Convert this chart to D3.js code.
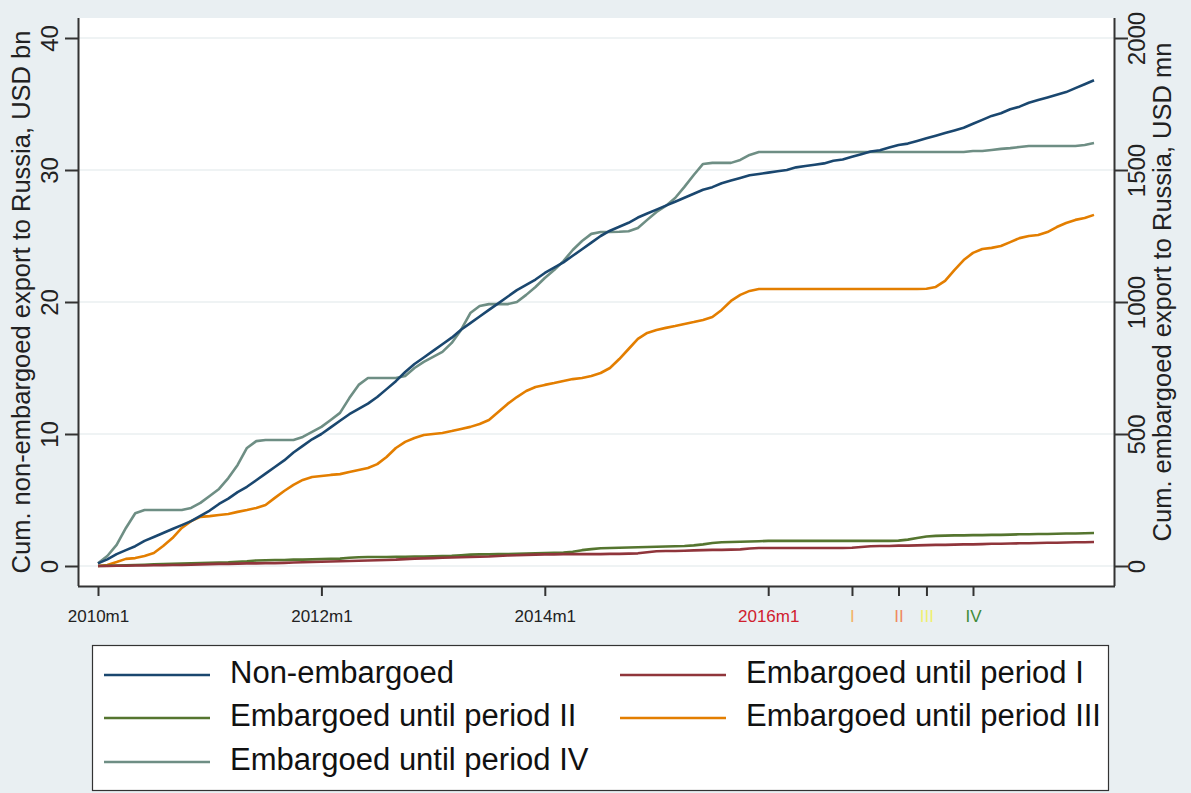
<!DOCTYPE html>
<html>
<head>
<meta charset="utf-8">
<script src="https://cdn.jsdelivr.net/npm/d3@7"></script>
<style>
  body { margin: 0; background: #e9eff2; }
  svg { display: block; font-family: "Liberation Sans", Arial, sans-serif; }
</style>
</head>
<body>
<div id="chart"></div>
<script>
// months since 2010m1, 2010m1 .. 2018m12
var months = d3.range(0, 108);

var tickMonths = [0, 24, 48, 72, 81, 86, 89, 94];
var tickLabels = ["2010m1", "2012m1", "2014m1", "2016m1", "I", "II", "III", "IV"];
var tickColors = ["#222", "#222", "#222", "#d0202e", "#f2b366", "#ef8a60", "#f0f070", "#3f8a3a"];

var leftTicks = [0, 10, 20, 30, 40];
var rightTicks = [0, 500, 1000, 1500, 2000];

// non-embargoed, USD bn (left axis)
var nonEmbargoed = [
  0.2, 0.5, 0.9, 1.2, 1.5, 1.9, 2.2, 2.5, 2.8, 3.1, 3.4, 3.8,
  4.2, 4.7, 5.1, 5.6, 6.0, 6.5, 7.0, 7.5, 8.0, 8.6, 9.1, 9.6,
  10.0, 10.5, 11.0, 11.5, 11.9, 12.3, 12.8, 13.4, 14.0, 14.7, 15.3, 15.8,
  16.3, 16.8, 17.3, 17.9, 18.4, 18.9, 19.4, 19.9, 20.4, 20.9, 21.3, 21.7,
  22.2, 22.6, 23.0, 23.5, 24.0, 24.5, 25.0, 25.4, 25.7, 26.0, 26.4, 26.7,
  27.0, 27.3, 27.6, 27.9, 28.2, 28.5, 28.7, 29.0, 29.2, 29.4, 29.6, 29.7,
  29.8, 29.9, 30.0, 30.2, 30.3, 30.4, 30.5, 30.7, 30.8, 31.0, 31.2, 31.4,
  31.5, 31.7, 31.9, 32.0, 32.2, 32.4, 32.6, 32.8, 33.0, 33.2, 33.5, 33.8,
  34.1, 34.3, 34.6, 34.8, 35.1, 35.3, 35.5, 35.7, 35.9, 36.2, 36.5, 36.8
];

// embargoed, USD mn (right axis)
var embargoedI = [
  0, 0, 1, 1, 2, 2, 3, 3, 4, 4, 5, 6,
  7, 8, 8, 9, 10, 10, 11, 11, 12, 13, 14, 15,
  16, 17, 18, 19, 20, 21, 22, 23, 24, 26, 28, 29,
  30, 31, 32, 33, 34, 35, 36, 38, 40, 41, 42, 43,
  44, 44, 45, 45, 45, 45, 45, 46, 46, 47, 48, 52,
  56, 57, 57, 58, 59, 60, 61, 61, 62, 63, 66, 68,
  68, 68, 68, 68, 68, 68, 68, 68, 68, 69, 72, 75,
  76, 76, 77, 77, 78, 79, 80, 80, 81, 82, 82, 83,
  84, 84, 85, 86, 86, 87, 88, 88, 89, 90, 90, 91
];

var embargoedII = [
  0, 1, 2, 3, 4, 5, 6, 7, 8, 9, 10, 11,
  12, 13, 14, 16, 18, 21, 22, 23, 23, 24, 24, 25,
  26, 27, 28, 31, 33, 34, 34, 34, 35, 35, 36, 36,
  37, 38, 39, 41, 43, 44, 44, 45, 45, 46, 47, 48,
  49, 50, 51, 54, 60, 64, 67, 68, 69, 70, 71, 72,
  73, 74, 75, 76, 78, 82, 87, 90, 91, 92, 93, 94,
  95, 95, 95, 95, 95, 95, 95, 95, 95, 95, 95, 95,
  95, 95, 96, 100, 106, 112, 114, 115, 116, 116, 117, 117,
  118, 118, 119, 120, 120, 121, 121, 122, 123, 123, 124, 125
];

var embargoedIII = [
  0, 4, 15, 27, 30, 38, 49, 76, 106, 144, 170, 186,
  189, 193, 197, 205, 212, 220, 231, 258, 284, 307, 326, 337,
  341, 345, 348, 356, 364, 371, 386, 413, 447, 470, 485, 496,
  500, 504, 511, 519, 527, 538, 553, 583, 614, 640, 663, 678,
  686, 693, 701, 708, 712, 720, 731, 750, 784, 822, 860, 883,
  894, 902, 909, 917, 924, 932, 943, 970, 1004, 1027, 1042, 1049,
  1049, 1049, 1049, 1049, 1049, 1049, 1049, 1049, 1049, 1049, 1049, 1049,
  1049, 1049, 1049, 1049, 1049, 1050, 1057, 1080, 1121, 1159, 1186, 1201,
  1205, 1212, 1227, 1242, 1250, 1254, 1265, 1284, 1299, 1311, 1318, 1330
];

var embargoedIV = [
  10, 38, 80, 144, 200, 212, 212, 212, 212, 212, 220, 239,
  265, 292, 333, 383, 447, 473, 477, 477, 477, 477, 489, 508,
  527, 553, 580, 636, 686, 712, 712, 712, 712, 720, 750, 773,
  792, 811, 845, 894, 958, 985, 992, 992, 992, 1000, 1027, 1057,
  1091, 1121, 1155, 1197, 1231, 1258, 1265, 1265, 1266, 1268, 1280, 1311,
  1341, 1364, 1394, 1436, 1481, 1523, 1527, 1527, 1527, 1538, 1557, 1568,
  1568, 1568, 1568, 1568, 1568, 1568, 1568, 1568, 1568, 1568, 1568, 1568,
  1568, 1568, 1568, 1568, 1568, 1568, 1568, 1568, 1568, 1568, 1572, 1572,
  1576, 1580, 1583, 1587, 1591, 1591, 1591, 1591, 1591, 1591, 1595, 1602
];

var seriesNames = ["Non-embargoed", "Embargoed until period I", "Embargoed until period II",
  "Embargoed until period III", "Embargoed until period IV"];
var seriesColors = ["#1a476f", "#90353b", "#55752f", "#e37e00", "#6e8e84"];

var width = 1191;
var height = 793;

var plot = { left: 78, right: 1115, top: 18, bottom: 586 };

var svg = d3.select("#chart")
  .append("svg")
  .attr("width", width)
  .attr("height", height);

var xScale = d3.scaleLinear()
  .domain([0, 107])
  .range([98, 1094]);

var yLeft = d3.scaleLinear()
  .domain([0, 40])
  .range([566, 38]);

var yRight = d3.scaleLinear()
  .domain([0, 2000])
  .range([566, 38]);

// plot region
svg.append("rect")
  .attr("x", plot.left)
  .attr("y", plot.top)
  .attr("width", plot.right - plot.left)
  .attr("height", plot.bottom - plot.top)
  .attr("fill", "#ffffff");

// grid lines
svg.append("g")
  .selectAll("line")
  .data(leftTicks)
  .enter()
  .append("line")
  .attr("x1", plot.left)
  .attr("x2", plot.right)
  .attr("y1", function(d) { return yLeft(d); })
  .attr("y2", function(d) { return yLeft(d); })
  .attr("stroke", "#eaeff1")
  .attr("stroke-width", 1.5);

// lines
var lineData = [
  { values: nonEmbargoed, y: yLeft },
  { values: embargoedI, y: yRight },
  { values: embargoedII, y: yRight },
  { values: embargoedIII, y: yRight },
  { values: embargoedIV, y: yRight }
];

var drawOrder = [4, 3, 2, 1, 0];

drawOrder.forEach(function(i) {
  var s = lineData[i];
  var line = d3.line()
    .x(function(d, j) { return xScale(months[j]); })
    .y(function(d) { return s.y(d); });
  svg.append("path")
    .datum(s.values)
    .attr("d", line)
    .attr("fill", "none")
    .attr("stroke", seriesColors[i])
    .attr("stroke-width", 2.6)
    .attr("stroke-linejoin", "round");
});

// x axis
var xAxis = svg.append("g")
  .attr("transform", "translate(0," + plot.bottom + ")")
  .call(d3.axisBottom(xScale)
    .tickValues(tickMonths)
    .tickFormat(function(d, i) { return tickLabels[i]; })
    .tickSize(10)
    .tickSizeOuter(0)
    .tickPadding(14));

xAxis.select(".domain")
  .attr("d", "M" + plot.left + ",0.5H" + plot.right)
  .attr("stroke", "#333")
  .attr("stroke-width", 2);
xAxis.selectAll(".tick line").attr("stroke", "#333").attr("stroke-width", 2);
xAxis.selectAll(".tick text")
  .attr("font-size", 17)
  .attr("fill", function(d, i) { return tickColors[i]; });

// left axis
var leftAxis = svg.append("g")
  .attr("transform", "translate(" + plot.left + ",0)")
  .call(d3.axisLeft(yLeft)
    .tickValues(leftTicks)
    .tickSize(13)
    .tickSizeOuter(0)
    .tickFormat(d3.format("d")));

leftAxis.select(".domain")
  .attr("d", "M0.5," + plot.top + "V" + plot.bottom)
  .attr("stroke", "#333")
  .attr("stroke-width", 2);
leftAxis.selectAll(".tick line").attr("stroke", "#333").attr("stroke-width", 2);
leftAxis.selectAll(".tick text")
  .attr("x", null)
  .attr("dy", null)
  .attr("font-size", 24)
  .attr("fill", "#222")
  .attr("text-anchor", "middle")
  .attr("transform", "translate(-26,0) rotate(-90)")
  .attr("y", 0)
  .attr("dominant-baseline", "middle");

// right axis
var rightAxis = svg.append("g")
  .attr("transform", "translate(" + plot.right + ",0)")
  .call(d3.axisRight(yRight)
    .tickValues(rightTicks)
    .tickSize(13)
    .tickSizeOuter(0)
    .tickFormat(d3.format("d")));

rightAxis.select(".domain")
  .attr("d", "M-0.5," + plot.top + "V" + plot.bottom)
  .attr("stroke", "#333")
  .attr("stroke-width", 2);
rightAxis.selectAll(".tick line").attr("stroke", "#333").attr("stroke-width", 2);
rightAxis.selectAll(".tick text")
  .attr("x", null)
  .attr("dy", null)
  .attr("font-size", 24)
  .attr("fill", "#222")
  .attr("text-anchor", "middle")
  .attr("transform", "translate(24,0) rotate(-90)")
  .attr("y", 0)
  .attr("dominant-baseline", "middle");

// axis titles
svg.append("text")
  .attr("transform", "translate(23," + ((plot.top + plot.bottom) / 2) + ") rotate(-90)")
  .attr("text-anchor", "middle")
  .attr("dominant-baseline", "middle")
  .attr("font-size", 25.5)
  .attr("fill", "#222")
  .text("Cum. non-embargoed export to Russia, USD bn");

svg.append("text")
  .attr("transform", "translate(1164," + ((plot.top + plot.bottom) / 2 - 10) + ") rotate(-90)")
  .attr("text-anchor", "middle")
  .attr("dominant-baseline", "middle")
  .attr("font-size", 25.5)
  .attr("fill", "#222")
  .text("Cum. embargoed export to Russia, USD mn");

// legend
var legend = svg.append("g");

legend.append("rect")
  .attr("x", 92.5)
  .attr("y", 645.5)
  .attr("width", 1016)
  .attr("height", 145)
  .attr("fill", "#ffffff")
  .attr("stroke", "#333")
  .attr("stroke-width", 1.2);

var legendPos = [
  { x: 104, y: 675 },
  { x: 620, y: 675 },
  { x: 104, y: 718 },
  { x: 620, y: 718 },
  { x: 104, y: 762 }
];

legend.selectAll(".item")
  .data(seriesNames)
  .enter()
  .append("g")
  .attr("class", "item")
  .attr("transform", function(d, i) {
    return "translate(" + legendPos[i].x + "," + legendPos[i].y + ")";
  })
  .each(function(d, i) {
    var g = d3.select(this);
    g.append("line")
      .attr("x1", 0)
      .attr("x2", 106)
      .attr("y1", 0)
      .attr("y2", 0)
      .attr("stroke", seriesColors[i])
      .attr("stroke-width", 2.6);
    g.append("text")
      .attr("x", 126)
      .attr("y", 0)
      .attr("dominant-baseline", "middle")
      .attr("font-size", 31)
      .attr("fill", "#111")
      .text(d);
  });
</script>
</body>
</html>
